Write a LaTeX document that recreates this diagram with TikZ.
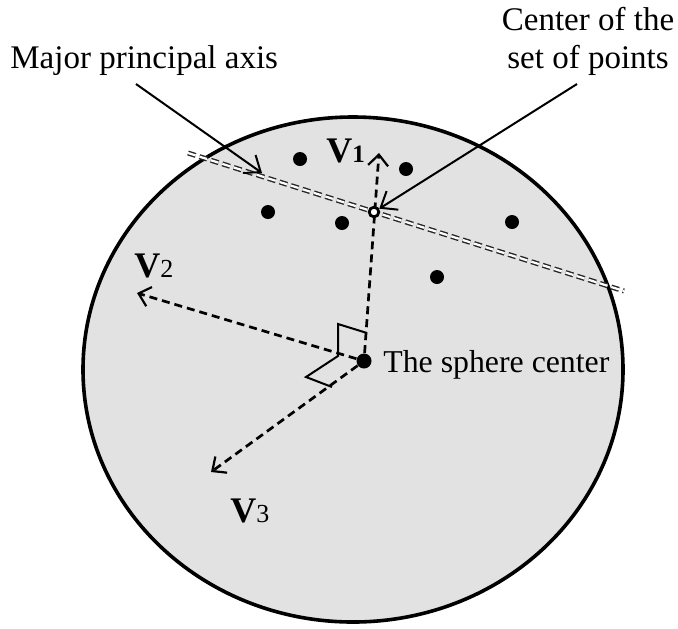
\documentclass[tikz,border=0pt]{standalone}
\usepackage{fontspec}
\setmainfont{Liberation Serif}
\usetikzlibrary{arrows.meta}
\definecolor{sph}{RGB}{226,226,226}
\begin{document}
\begin{tikzpicture}[x=0.5pt,y=-0.5pt,
  lbl/.style={font=\fontsize{16.5}{19}\selectfont, inner sep=0pt},
  vlbl/.style={font=\fontsize{18}{20}\selectfont\bfseries, inner sep=0pt, anchor=base west},
  pt/.style={circle, fill=black, inner sep=0pt, minimum size=7pt},
  vec/.style={dash pattern=on 4pt off 2.5pt, line width=1.35pt,
    -{Straight Barb[length=5.5pt,width=10pt,line width=1.1pt]}},
  callout/.style={line width=1pt, -{Straight Barb[length=7pt,width=11pt,line width=1pt]}},
  axisline/.style={draw=black!85, double=white, double distance=1.1pt, line width=0.7pt,
    dash pattern=on 4pt off 2pt},
  rightangle/.style={line width=1pt, line join=miter}]
\useasboundingbox (0,0) rectangle (678,628);
% sphere
\draw[line width=1.8pt, fill=sph] (353,369.5) ellipse [x radius=270, y radius=252.5];
% principal axis
\coordinate (pa1) at (188,153);
\coordinate (pa2) at (624,291);
\draw[axisline] (pa1) -- (pa2);
% points
\node[pt] (p1) at (300,159) {};
\node[pt] (p2) at (406,169) {};
\node[pt] (p3) at (268,212) {};
\node[pt] (p4) at (342,223) {};
\node[pt] (p5) at (512,222) {};
\node[pt] (p6) at (437,277) {};
% sphere center
\node[pt, minimum size=7.5pt] (c) at (364,361) {};
% vectors
\coordinate (v1tip) at (379,153);
\coordinate (v2tip) at (137,293);
\coordinate (v3tip) at (211,472);
\draw[vec] (c) -- (v1tip);
\draw[vec] (c) -- (v2tip);
\draw[vec] (c) -- (v3tip);
% set center ring
\node[circle, draw=black, line width=1.4pt, fill=white, inner sep=0pt, minimum size=4.8pt] (m) at (374,212) {};
% right angle markers
\coordinate (r1) at (367,333);
\coordinate (r2) at (338,324);
\coordinate (r3) at (338,356);
\coordinate (r4) at (306,377);
\coordinate (r5) at (332,387);
\draw[rightangle] (r1) -- (r2) -- (r3) -- (r4) -- (r5);
% labels
\node[lbl, anchor=base west] (tmaj) at (10,68) {Major principal axis};
\node[lbl, align=center, anchor=base] (tcen) at (588,68) {Center of the\\set of points};
\node[lbl, font=\fontsize{15.9}{19}\selectfont, anchor=base west] (tsph) at (383,372) {The sphere center};
\node[vlbl] (lv1) at (326,162) {V{\fontsize{12.5}{13}\selectfont 1}};
\node[vlbl] (lv2) at (134,277) {V{\fontsize{13}{13}\selectfont\mdseries 2}};
\node[vlbl] (lv3) at (230,522) {V{\fontsize{13}{13}\selectfont\mdseries 3}};
% callouts
\coordinate (cs1) at (136,84);
\coordinate (ce1) at (262,173);
\coordinate (cs2) at (577,84);
\draw[callout] (cs1) -- (ce1);
\draw[callout] (cs2) -- (m);
\end{tikzpicture}
\end{document}
